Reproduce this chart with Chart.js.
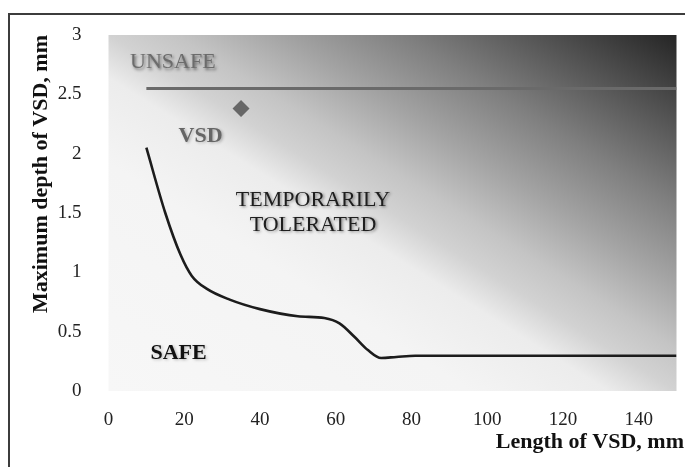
<!DOCTYPE html>
<html>
<head>
<meta charset="utf-8">
<script src="https://cdn.jsdelivr.net/npm/chart.js@4/dist/chart.umd.min.js"></script>
<style>
  html, body { margin: 0; padding: 0; background: #ffffff; }
  #wrap { position: relative; width: 685px; height: 467px; overflow: hidden; }
  #frame { position: absolute; left: 8px; top: 13px; width: 700px; height: 480px;
           border-top: 2px solid #3c3c3c; border-left: 2px solid #3c3c3c; }
  canvas { position: absolute; left: 0; top: 0; }
</style>
</head>
<body>
<div id="wrap">
  <div id="frame"></div>
  <canvas id="c" width="685" height="467"></canvas>
</div>
<script>
// ---- data ----
const curveX = [10, 15, 19, 22, 26, 32, 40, 50, 57, 61, 65, 68.5, 72, 76, 81, 100, 150];
const curveY = [2.05, 1.50, 1.15, 0.97, 0.86, 0.77, 0.69, 0.63, 0.615, 0.57, 0.455, 0.345, 0.278, 0.287, 0.297, 0.297, 0.297];
const limitX = [10, 150];
const limitY = [2.55, 2.55];
const vsdX = [35];
const vsdY = [2.38];
const xTicks = [0, 20, 40, 60, 80, 100, 120, 140];
const yTicks = [0, 0.5, 1, 1.5, 2, 2.5, 3];
const xTitle = 'Length of VSD, mm';
const yTitle = 'Maximum depth of VSD, mm';
const zoneNames = ['UNSAFE', 'VSD', 'TEMPORARILY', 'TOLERATED', 'SAFE'];

const SERIF = '"Liberation Serif", "Times New Roman", serif';

const toPts = (xs, ys) => xs.map((x, i) => ({x: x, y: ys[i]}));

// label placement (data coordinates) and styles
const zoneLabels = [
  {text: zoneNames[0], x: 17,   y: 2.77, color: '#6c6c6c', weight: 'normal', shadow: 'rgba(0,0,0,0.5)'},
  {text: zoneNames[1], x: 24.3, y: 2.15, color: '#666666', weight: 'bold',   shadow: 'rgba(0,0,0,0.25)'},
  {text: zoneNames[2], x: 54,   y: 1.61, color: '#1e1e1e', weight: 'normal', shadow: 'rgba(0,0,0,0.45)'},
  {text: zoneNames[3], x: 54,   y: 1.40, color: '#1e1e1e', weight: 'normal', shadow: 'rgba(0,0,0,0.45)'},
  {text: zoneNames[4], x: 18.5, y: 0.32, color: '#111111', weight: 'bold',   shadow: 'rgba(0,0,0,0.25)'}
];

const bgPlugin = {
  id: 'bg',
  beforeDatasetsDraw(chart) {
    const {ctx, chartArea: a} = chart;
    const W = a.right - a.left, H = a.bottom - a.top;
    const k = 2 * W * H / (W * W + H * H);
    const x0 = a.left, y0 = a.bottom;
    const x1 = a.left + H * k, y1 = a.bottom - W * k;
    const g = ctx.createLinearGradient(x0, y0, x1, y1);
    g.addColorStop(0.00, '#f7f7f7');
    g.addColorStop(0.32, '#f4f4f4');
    g.addColorStop(0.44, '#ececec');
    g.addColorStop(0.50, '#d2d2d2');
    g.addColorStop(0.56, '#c4c4c4');
    g.addColorStop(0.65, '#a4a4a4');
    g.addColorStop(0.76, '#7f7f7f');
    g.addColorStop(0.88, '#525252');
    g.addColorStop(1.00, '#252525');
    ctx.save();
    ctx.fillStyle = g;
    ctx.fillRect(a.left, a.top, W, H);
    ctx.restore();
  }
};

const labelPlugin = {
  id: 'zones',
  afterDatasetsDraw(chart) {
    const {ctx, scales: {x, y}} = chart;
    ctx.save();
    ctx.textAlign = 'center';
    ctx.textBaseline = 'middle';
    zoneLabels.forEach(l => {
      ctx.font = l.weight + ' 22px ' + SERIF;
      ctx.shadowColor = l.shadow;
      ctx.shadowBlur = 3;
      ctx.shadowOffsetX = 1.5;
      ctx.shadowOffsetY = 1.5;
      ctx.fillStyle = l.color;
      ctx.fillText(l.text, x.getPixelForValue(l.x), y.getPixelForValue(l.y));
    });
    ctx.restore();
  }
};

// x-axis title, right-aligned to the canvas edge as in the reference
const xTitlePlugin = {
  id: 'xTitle',
  afterDraw(chart) {
    const {ctx, width, height} = chart;
    ctx.save();
    ctx.font = 'bold 22px ' + SERIF;
    ctx.fillStyle = '#111';
    ctx.textAlign = 'right';
    ctx.textBaseline = 'middle';
    ctx.fillText(xTitle, width - 1, height - 25);
    ctx.restore();
  }
};

new Chart(document.getElementById('c'), {
  type: 'scatter',
  data: {
    datasets: [
      {
        data: toPts(curveX, curveY),
        showLine: true,
        borderColor: '#1c1c1c',
        borderWidth: 2.6,
        pointRadius: 0,
        cubicInterpolationMode: 'monotone',
        order: 2
      },
      {
        data: toPts(limitX, limitY),
        showLine: true,
        borderColor: '#6a6a6a',
        borderWidth: 3,
        pointRadius: 0,
        order: 3
      },
      {
        data: toPts(vsdX, vsdY),
        pointStyle: 'rectRot',
        pointRadius: 8.5,
        backgroundColor: '#676767',
        borderColor: '#676767',
        borderWidth: 0,
        order: 1
      }
    ]
  },
  options: {
    responsive: false,
    animation: false,
    devicePixelRatio: 1,
    layout: { padding: {left: 0, right: 5, top: 35, bottom: 0} },
    plugins: { legend: {display: false}, tooltip: {enabled: false}, title: {display: false} },
    scales: {
      x: {
        type: 'linear',
        min: 0, max: 150,
        grid: {display: false},
        border: {display: false},
        afterBuildTicks: s => { s.ticks = xTicks.map(v => ({value: v})); },
        afterFit: s => { s.height = 76; },
        ticks: { color: '#222', padding: 10, maxRotation: 0, font: {family: SERIF, size: 19},
                 callback: v => String(v) },
        title: { display: false }
      },
      y: {
        type: 'linear',
        min: 0, max: 3,
        grid: {display: false},
        border: {display: false},
        afterBuildTicks: s => { s.ticks = yTicks.map(v => ({value: v})); },
        afterFit: s => { s.width = 108.5; },
        ticks: { color: '#222', padding: 19, font: {family: SERIF, size: 19},
                 callback: v => String(v) },
        title: { display: true, text: yTitle, align: 'end', color: '#111',
                 font: {family: SERIF, size: 22, weight: 'bold'}, padding: {top: 28, bottom: 0} }
      }
    }
  },
  plugins: [bgPlugin, labelPlugin, xTitlePlugin]
});
</script>
</body>
</html>
